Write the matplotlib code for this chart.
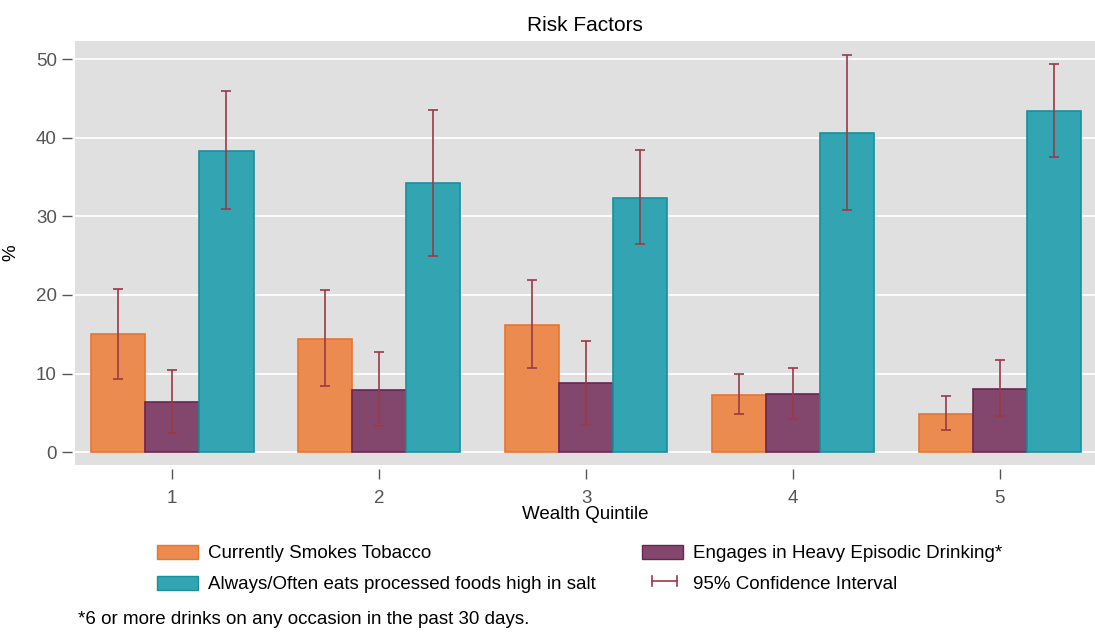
import numpy as np
import matplotlib
matplotlib.use('Agg')
import matplotlib.pyplot as plt
from matplotlib.patches import Patch
from matplotlib.lines import Line2D
from matplotlib.legend_handler import HandlerBase

# data
quintiles = [1, 2, 3, 4, 5]
smokes = [15.0, 14.4, 16.2, 7.3, 4.9]
smokes_lo = [9.3, 8.4, 10.7, 4.8, 2.8]
smokes_hi = [20.8, 20.6, 21.9, 9.9, 7.2]
drinking = [6.4, 7.9, 8.8, 7.4, 8.1]
drinking_lo = [2.4, 3.3, 3.5, 4.2, 4.6]
drinking_hi = [10.5, 12.7, 14.2, 10.7, 11.7]
salt = [38.3, 34.2, 32.3, 40.6, 43.4]
salt_lo = [30.9, 25.0, 26.5, 30.8, 37.6]
salt_hi = [46.0, 43.5, 38.4, 50.5, 49.4]

labels = ['Currently Smokes Tobacco', 'Engages in Heavy Episodic Drinking*',
          'Always/Often eats processed foods high in salt']

#colours
fills = ['#EC8B50', '#83476E', '#33A5B2']
edges = ['#EA7530', '#6B2452', '#17909C']
ci_col = '#9B3A47'

plt.rcParams['font.family'] = ['Liberation Sans', 'DejaVu Sans']


class HandlerCI(HandlerBase):
    def create_artists(self, legend, orig, xd, yd, w, h, fontsize, trans):
        y = yd + h / 2.0
        x0 = xd + w * 0.25
        x1 = xd + w * 0.85
        c = h * 0.35
        arts = [Line2D([x0, x1], [y, y], color=ci_col, lw=1.2),
                Line2D([x0, x0], [y - c, y + c], color=ci_col, lw=1.2),
                Line2D([x1, x1], [y - c, y + c], color=ci_col, lw=1.2)]
        for a in arts:
            a.set_transform(trans)
        return arts


fig = plt.figure(figsize=(10.95, 6.32), dpi=100)
ax = fig.add_axes([0.0685, 0.264, 0.9315, 0.671])
ax.set_facecolor('#E0E0E0')

x = np.array(quintiles, dtype=float)
w = 0.262
series = [(smokes, smokes_lo, smokes_hi), (drinking, drinking_lo, drinking_hi), (salt, salt_lo, salt_hi)]
for i, (vals, lo, hi) in enumerate(series):
    xs = x + (i - 1) * w
    ax.bar(xs, vals, width=w, color=fills[i], edgecolor=edges[i], linewidth=1.2, zorder=2)
    v = np.array(vals)
    yerr = [v - np.array(lo), np.array(hi) - v]
    ax.errorbar(xs, vals, yerr=yerr, fmt='none', ecolor=ci_col, elinewidth=1.2,
                capsize=3.5, capthick=1.2, zorder=3)

ax.set_xlim(0.53, 5.46)
ax.set_ylim(-1.65, 52.3)
ax.set_yticks([0, 10, 20, 30, 40, 50])
ax.set_xticks(quintiles)
ax.grid(axis='y', color='white', linewidth=1.3, zorder=0)
ax.set_axisbelow(True)
for s in ['top', 'right', 'bottom', 'left']:
    ax.spines[s].set_visible(False)
ax.spines['left'].set_position(('outward', 2))
ax.spines['bottom'].set_position(('outward', 3))
ax.tick_params(axis='both', colors='#555555', labelcolor='#555555', labelsize=13.5,
               length=7, width=1)
ax.tick_params(axis='y', pad=4)
ax.tick_params(axis='x', pad=8)

ax.set_title('Risk Factors', fontsize=15, pad=7)
ax.set_xlabel('Wealth Quintile', fontsize=13.5, labelpad=-1)
ax.set_ylabel('%', fontsize=13.5, labelpad=12)

handles = [Patch(facecolor=fills[0], edgecolor=edges[0]),
           Patch(facecolor=fills[2], edgecolor=edges[2]),
           Patch(facecolor=fills[1], edgecolor=edges[1]),
           Line2D([], [])]
names = [labels[0], labels[2], labels[1], '95% Confidence Interval']
fig.legend(handles, names, loc='upper left', bbox_to_anchor=(0.143, 0.138),
           bbox_transform=fig.transFigure, ncol=2, frameon=False, fontsize=13.5,
           handlelength=2.2, handleheight=0.8, handletextpad=0.55,
           columnspacing=2.45, labelspacing=0.7, borderpad=0, borderaxespad=0,
           handler_map={Line2D: HandlerCI()})

fig.text(0.071, 1 - 620 / 632, '*6 or more drinks on any occasion in the past 30 days.',
         fontsize=13.5, va='center', ha='left')

fig.savefig('out.png', dpi=100)
